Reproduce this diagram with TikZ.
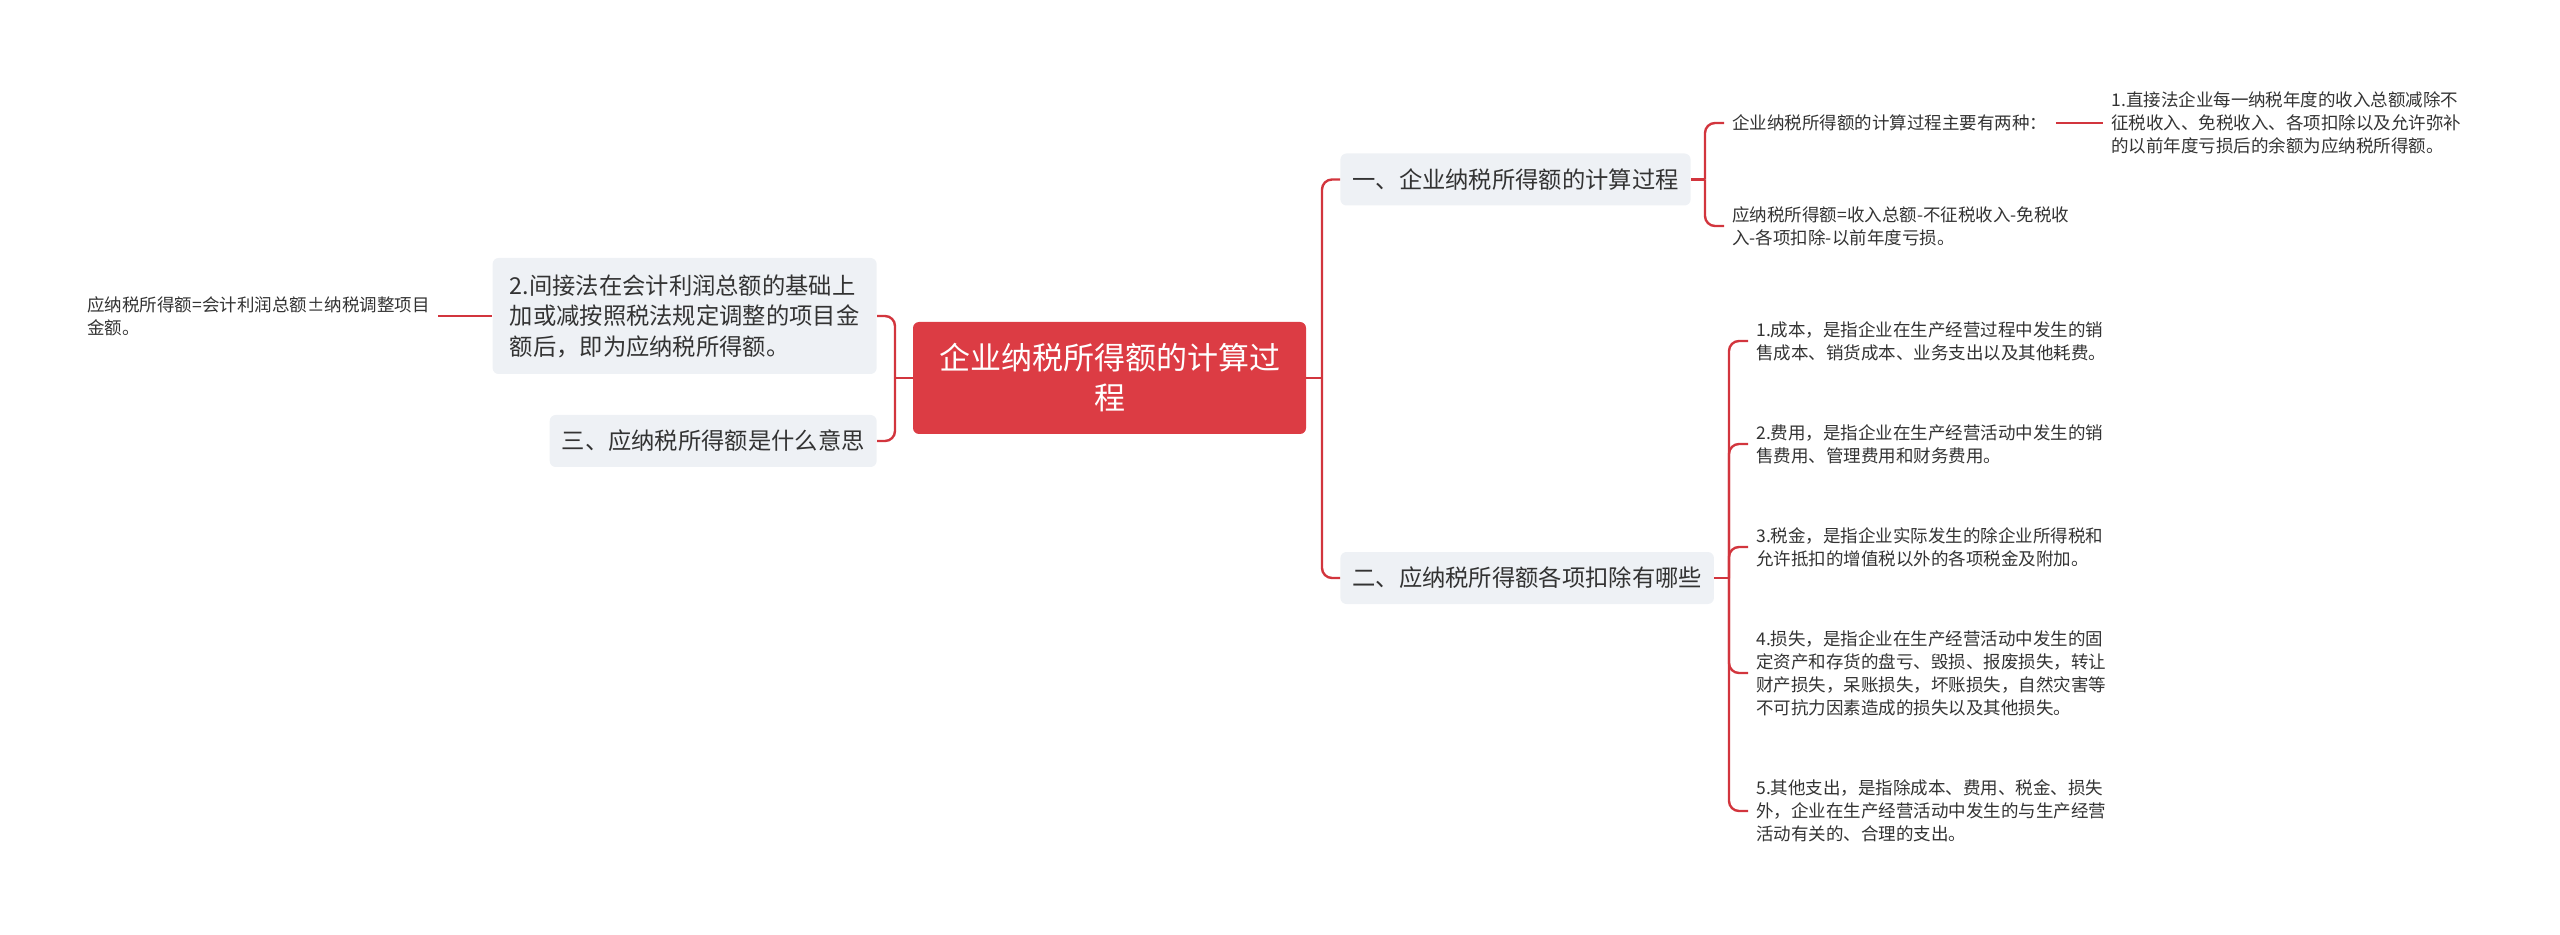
\documentclass[tikz,border=0pt]{standalone}
\usepackage{fontspec}
\newfontfamily\cjk{Noto Sans CJK SC}
\usepackage{tikz}

\definecolor{rootred}{HTML}{DC3C44}
\definecolor{linkred}{HTML}{D2353D}
\definecolor{boxgray}{HTML}{EEF1F5}
\definecolor{txt}{HTML}{333333}

\tikzset{
  root/.style={fill=rootred, rounded corners=3pt, text=white, align=center,
    minimum width=196.5pt, minimum height=56pt, font=\cjk\fontsize{15.5}{20}\selectfont},
  topic/.style={fill=boxgray, rounded corners=3pt, text=txt, align=left, inner xsep=6pt,
    minimum height=26pt, font=\cjk\fontsize{11.65}{15.25}\selectfont},
  leaf/.style={text=txt, align=left, inner xsep=4pt, inner ysep=0pt,
    font=\cjk\fontsize{8.75}{11.5}\selectfont},
  link/.style={draw=linkred, line width=1.2pt, rounded corners=5pt},
}

\begin{document}
\begin{tikzpicture}[x=0.5pt, y=-0.5pt]
    \useasboundingbox (0,0) rectangle (2560,935);

    \node[root] at (1109.5, 378) (r) {企业纳税所得额的计算过\\程};

    \node[topic, anchor=west] at (1340, 179.5) (t1) {一、企业纳税所得额的计算过程};
    \node[topic, anchor=west] at (1340, 578) (t2) {二、应纳税所得额各项扣除有哪些};
    \node[topic, anchor=east, minimum width=192pt, minimum height=58pt] at (877, 316) (t3)
        {2.间接法在会计利润总额的基础上\\加或减按照税法规定调整的项目金\\额后，即为应纳税所得额。};
    \node[topic, anchor=east] at (877, 441) (t4) {三、应纳税所得额是什么意思};

    \node[leaf, anchor=west] at (1724, 123) (a1) {企业纳税所得额的计算过程主要有两种：};
    \node[leaf, anchor=west] at (1724, 226) (a2) {应纳税所得额=收入总额-不征税收入-免税收\\入-各项扣除-以前年度亏损。};
    \node[leaf, anchor=west] at (2103, 123) (c1) {1.直接法企业每一纳税年度的收入总额减除不\\征税收入、免税收入、各项扣除以及允许弥补\\的以前年度亏损后的余额为应纳税所得额。};

    \node[leaf, anchor=west] at (1748, 341) (b1) {1.成本，是指企业在生产经营过程中发生的销\\售成本、销货成本、业务支出以及其他耗费。};
    \node[leaf, anchor=west] at (1748, 444) (b2) {2.费用，是指企业在生产经营活动中发生的销\\售费用、管理费用和财务费用。};
    \node[leaf, anchor=west] at (1748, 547) (b3) {3.税金，是指企业实际发生的除企业所得税和\\允许抵扣的增值税以外的各项税金及附加。};
    \node[leaf, anchor=west] at (1748, 673) (b4) {4.损失，是指企业在生产经营活动中发生的固\\定资产和存货的盘亏、毁损、报废损失，转让\\财产损失，呆账损失，坏账损失，自然灾害等\\不可抗力因素造成的损失以及其他损失。};
    \node[leaf, anchor=west] at (1748, 811) (b5) {5.其他支出，是指除成本、费用、税金、损失\\外，企业在生产经营活动中发生的与生产经营\\活动有关的、合理的支出。};

    \node[leaf, anchor=west] at (79, 316) (l1) {应纳税所得额=会计利润总额±纳税调整项目\\金额。};

    \coordinate (rs) at (1322, 378);
    \coordinate (ls) at (895, 378);
    \coordinate (s1) at (1705, 179.5);
    \coordinate (s2) at (1729, 578);

    \draw[link] (r.east) -- (rs);
    \draw[link] (t1.west) -| (rs) |- (t2.west);
    \draw[link] (r.west) -- (ls);
    \draw[link] (t3.east) -| (ls) |- (t4.east);

    \draw[link] (t1.east) -- (s1);
    \foreach \i in {1,2}
        \draw[link] (a\i.west) -| (s1);
    \draw[link] (a1.east) -- (c1.west);

    \draw[link] (t2.east) -- (s2);
    \foreach \i in {1,...,5}
        \draw[link] (b\i.west) -| (s2);

    \draw[link] (l1.east) -- (t3.west);
\end{tikzpicture}
\end{document}
